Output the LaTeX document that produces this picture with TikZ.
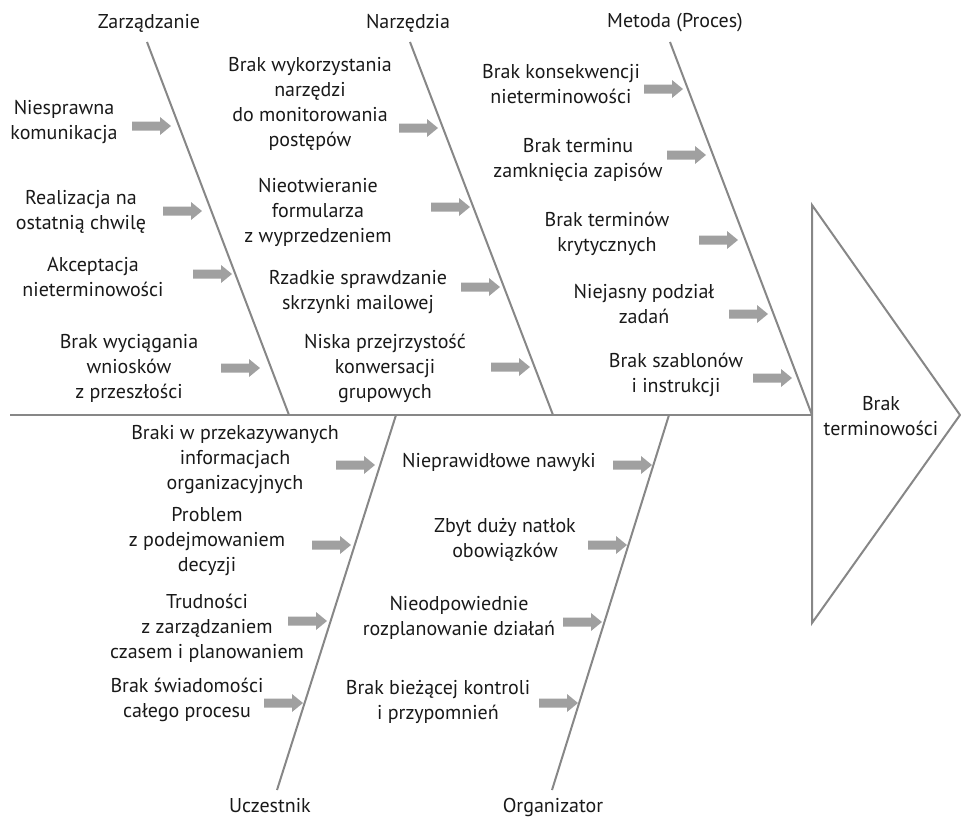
\documentclass[tikz,border=0pt]{standalone}
\usepackage{fontspec}
\setmainfont{PT Sans}
\definecolor{bonegray}{RGB}{135,135,135}
\definecolor{arrowgray}{RGB}{160,160,160}
\definecolor{txt}{RGB}{25,25,25}
\tikzset{
  bone/.style={draw=bonegray, line width=2pt},
  cause/.style={align=center, inner sep=0pt, text=txt, font=\fontsize{20}{25}\selectfont},
  cat/.style={inner sep=0pt, text=txt, font=\fontsize{20}{25}\selectfont},
  barrow/.pic={\fill[arrowgray] (-39,-4.5) -- (-11,-4.5) -- (-11,-9) -- (0,0) -- (-11,9) -- (-11,4.5) -- (-39,4.5) -- cycle;}
}
\begin{document}
\begin{tikzpicture}[x=1pt,y=-1pt]
\useasboundingbox (0,0) rectangle (961,817);
% spine and head
\coordinate (sL) at (10,415);
\coordinate (sR) at (812,415);
\coordinate (hT) at (812,205);
\coordinate (hB) at (812,623);
\coordinate (hP) at (960,415);
\draw[bone] (sL) -- (sR);
\draw[bone, line join=miter] (hT) -- (hP) -- (hB) -- cycle;
\node[cause] (effect) at (881,416) {Brak\\terminowości};
% bones
\coordinate (zT) at (147,42);  \coordinate (zB) at (289,415);
\coordinate (nT) at (410,42);  \coordinate (nB) at (553,415);
\coordinate (mT) at (670,42);  \coordinate (mB) at (812,415);
\coordinate (uT) at (396,415); \coordinate (uB) at (277,790);
\coordinate (oT) at (669,415); \coordinate (oB) at (552,790);
\draw[bone] (zT) -- (zB);
\draw[bone] (nT) -- (nB);
\draw[bone] (mT) -- (mB);
\draw[bone] (uT) -- (uB);
\draw[bone] (oT) -- (oB);
% category labels
\node[cat] (cZ) at (149,23) {Zarządzanie};
\node[cat] (cN) at (408,23) {Narzędzia};
\node[cat] (cM) at (675,23) {Metoda (Proces)};
\node[cat, anchor=base] (cU) at (270,812) {Uczestnik};
\node[cat, anchor=base] (cO) at (553,812) {Organizator};
% Zarzadzanie causes
\node[cause] (z1) at (64,122) {Niesprawna\\komunikacja};
\node[cause] (z2) at (81,212) {Realizacja na\\ostatnią chwilę};
\node[cause] (z3) at (93,277) {Akceptacja\\nieterminowości};
\node[cause] (z4) at (129,368) {Brak wyciągania\\wniosków\\z przeszłości};
\coordinate (az1) at (171,126); \pic at (az1) {barrow};
\coordinate (az2) at (202,211); \pic at (az2) {barrow};
\coordinate (az3) at (232,274); \pic at (az3) {barrow};
\coordinate (az4) at (260,368); \pic at (az4) {barrow};
% Narzedzia causes
\node[cause] (n1) at (310,104) {Brak wykorzystania\\narzędzi\\do monitorowania\\postępów};
\node[cause] (n2) at (318,212) {Nieotwieranie\\formularza\\z wyprzedzeniem};
\node[cause] (n3) at (358,292) {Rzadkie sprawdzanie\\skrzynki mailowej};
\node[cause] (n4) at (385,368) {Niska przejrzystość\\konwersacji\\grupowych};
\coordinate (an1) at (438,128); \pic at (an1) {barrow};
\coordinate (an2) at (470,207); \pic at (an2) {barrow};
\coordinate (an3) at (500,287); \pic at (an3) {barrow};
\coordinate (an4) at (530,367); \pic at (an4) {barrow};
% Metoda causes
\node[cause] (m1) at (561,84) {Brak konsekwencji\\nieterminowości};
\node[cause] (m2) at (578,160) {Brak terminu\\zamknięcia zapisów};
\node[cause] (m3) at (607,234) {Brak terminów\\krytycznych};
\node[cause] (m4) at (644,304) {Niejasny podział\\zadań};
\node[cause] (m5) at (676,375) {Brak szablonów\\i instrukcji};
\coordinate (am1) at (683,89);  \pic at (am1) {barrow};
\coordinate (am2) at (706,155); \pic at (am2) {barrow};
\coordinate (am3) at (738,240); \pic at (am3) {barrow};
\coordinate (am4) at (768,314); \pic at (am4) {barrow};
\coordinate (am5) at (792,378); \pic at (am5) {barrow};
% Uczestnik causes
\node[cause] (u1) at (235,460) {Braki w przekazywanych\\informacjach\\organizacyjnych};
\node[cause] (u2) at (207,542) {Problem\\z podejmowaniem\\decyzji};
\node[cause] (u3) at (207,628) {Trudności\\z zarządzaniem\\czasem i planowaniem};
\node[cause] (u4) at (187,700) {Brak świadomości\\całego procesu};
\coordinate (au1) at (375,465); \pic at (au1) {barrow};
\coordinate (au2) at (351,545); \pic at (au2) {barrow};
\coordinate (au3) at (327,621); \pic at (au3) {barrow};
\coordinate (au4) at (303,703); \pic at (au4) {barrow};
% Organizator causes
\node[cause] (o1) at (499,462) {Nieprawidłowe nawyki};
\node[cause] (o2) at (505,540) {Zbyt duży natłok\\obowiązków};
\node[cause] (o3) at (459,618) {Nieodpowiednie\\rozplanowanie działań};
\node[cause] (o4) at (438,702) {Brak bieżącej kontroli\\i przypomnień};
\coordinate (ao1) at (652,465); \pic at (ao1) {barrow};
\coordinate (ao2) at (627,545); \pic at (ao2) {barrow};
\coordinate (ao3) at (602,622); \pic at (ao3) {barrow};
\coordinate (ao4) at (578,703); \pic at (ao4) {barrow};
\end{tikzpicture}
\end{document}
